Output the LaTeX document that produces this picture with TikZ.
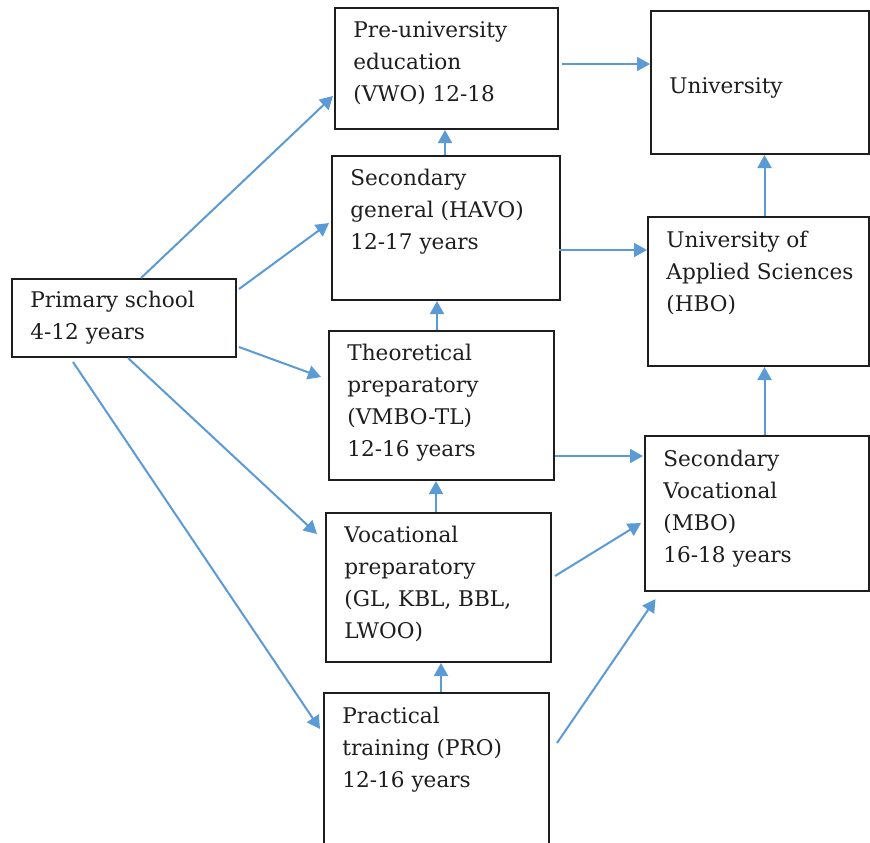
\documentclass[tikz,border=0pt]{standalone}
\usepackage{fontspec}
\setmainfont{DejaVu Serif}
\usetikzlibrary{arrows.meta,calc}
\definecolor{arrowblue}{RGB}{91,155,213}
\definecolor{inkgray}{RGB}{30,30,30}
\tikzset{
	box/.style={draw=inkgray, line width=1pt, anchor=north west, inner sep=0pt},
	txt/.style={anchor=north west, inner sep=0pt, align=left, text=inkgray, font=\fontsize{10.8}{16}\selectfont},
	link/.style={draw=arrowblue, line width=1pt, -{Triangle[length=6.5pt,width=7pt]}},
}
\begin{document}
\begin{tikzpicture}[x=0.5pt,y=-0.5pt]
			
			\clip (0,0) rectangle (870,842);
			\fill[white] (0,0) rectangle (870,842);
			
			\begin{scope}
				\node[box, minimum width=112pt, minimum height=39pt] (prim) at (11,278) {};
				\node[txt] (primtxt) at ($(prim.north west)+(19,13)$) {Primary school\\4-12 years};
			\end{scope}
			
			\begin{scope}
				\node[box, minimum width=111.5pt, minimum height=60.5pt] (vwo) at (334,7) {};
				\node[box, minimum width=114pt, minimum height=72pt] (havo) at (331,155) {};
				\node[box, minimum width=112.5pt, minimum height=74.5pt] (vmbo) at (328,330) {};
				\node[box, minimum width=112.5pt, minimum height=74.5pt] (voc) at (325,512) {};
				\node[box, minimum width=112.5pt, minimum height=77pt] (pro) at (323,692) {};
				
				\node[txt] (vwotxt) at ($(vwo.north west)+(19,14)$) {Pre-university\\education\\(VWO) 12-18};
				\node[txt] (havotxt) at ($(havo.north west)+(19,14)$) {Secondary\\general (HAVO)\\12-17 years};
				\node[txt] (vmbotxt) at ($(vmbo.north west)+(19,14)$) {Theoretical\\preparatory\\(VMBO-TL)\\12-16 years};
				\node[txt] (voctxt) at ($(voc.north west)+(19,14)$) {Vocational\\preparatory\\(GL, KBL, BBL,\\LWOO)};
				\node[txt] (protxt) at ($(pro.north west)+(19,15)$) {Practical\\training (PRO)\\12-16 years};
			\end{scope}
			
			\begin{scope}
				\node[box, minimum width=109pt, minimum height=71.5pt] (uni) at (650,10) {};
				\node[box, minimum width=110.5pt, minimum height=74.5pt] (hbo) at (647,216) {};
				\node[box, minimum width=112pt, minimum height=77.5pt] (mbo) at (644,435) {};
				
				\node[txt] (unitxt) at ($(uni.north west)+(19,67)$) {University};
				\node[txt] (hbotxt) at ($(hbo.north west)+(19,15)$) {University of\\Applied Sciences\\(HBO)};
				\node[txt] (mbotxt) at ($(mbo.north west)+(19,15)$) {Secondary\\Vocational\\(MBO)\\16-18 years};
			\end{scope}
			
			% from primary school
			\draw[link] ($(prim.north)+(17,0)$) -- ($(vwo.west)+(-1,27.5)$);
			\draw[link] ($(prim.east)+(2,-29)$) -- ($(havo.west)+(-2,-5)$);
			\draw[link] ($(prim.east)+(2,29)$) -- ($(vmbo.west)+(-7,-28.5)$);
			\draw[link] ($(prim.south)+(4,0)$) -- ($(voc.west)+(-8,-53.5)$);
			\draw[link] ($(prim.south)+(-51,4)$) -- ($(pro.west)+(-3,-41)$);
			
			% upwards
			\draw[link] ($(pro.north)+(4.5,0)$) -- ($(voc.south)+(2.5,0)$);
			\draw[link] ($(voc.north)+(-2.5,0)$) -- ($(vmbo.south)+(-5.5,0)$);
			\draw[link] ($(vmbo.north)+(-4.5,0)$) -- ($(havo.south)+(-9,0)$);
			\draw[link] ($(havo.north)+(-1,0)$) -- ($(vwo.south)+(-1.5,0)$);
			\draw[link] ($(mbo.north)+(7.5,0)$) -- ($(hbo.south)+(6,0)$);
			\draw[link] ($(hbo.north)+(6,0)$) -- ($(uni.south)+(4.5,0)$);
			
			% to the right
			\draw[link] ($(vwo.east)+(3,-4.5)$) -- ($(uni.west)+(0,-18.5)$);
			\draw[link] ($(havo.east)+(-2,22)$) -- ($(hbo.west)+(0,-41.5)$);
			\draw[link] ($(vmbo.east)+(0,50.5)$) -- ($(mbo.west)+(-1,-57.5)$);
			\draw[link] ($(voc.east)+(3,-11.5)$) -- ($(mbo.west)+(-3,9.5)$);
			\draw[link] ($(pro.east)+(7,-27)$) -- ($(mbo.south)+(-101.5,7)$);
		
		\end{tikzpicture}
\end{document}
